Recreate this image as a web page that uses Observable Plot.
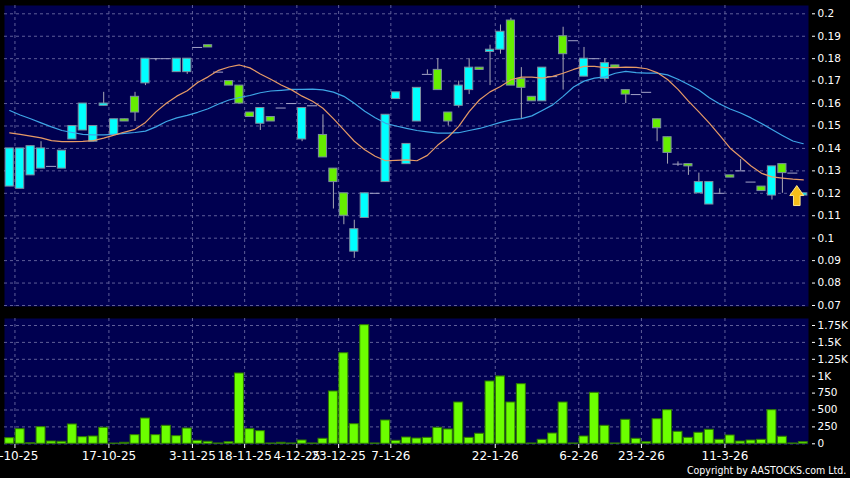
<!DOCTYPE html>
<html>
<head>
<meta charset="utf-8">
<script src="https://cdn.jsdelivr.net/npm/d3@7"></script>
<script src="https://cdn.jsdelivr.net/npm/@observablehq/plot@0.6"></script>
<style>
html, body { margin: 0; padding: 0; background: #000; }
#chart { position: relative; width: 850px; height: 478px; background: #000; overflow: hidden; font-family: "DejaVu Sans", sans-serif; }
#chart svg { position: absolute; left: 0; }
#copy { position: absolute; right: 4px; top: 465px; color: #fff; font-size: 11px; line-height: 12px; white-space: nowrap; transform: scaleX(0.86); transform-origin: right center; font-family: "DejaVu Sans", sans-serif; }
</style>
</head>
<body>
<div id="chart"><div id="copy">Copyright by AASTOCKS.com Ltd.</div></div>
<script>
// ---- data ----
const opens  = [0.140,0.140,0.141,0.140,0.132,0.139,0.150,0.160,0.150,0.160,0.153,0.152,0.156,0.180,0.180,0.180,0.180,0.180,0.185,0.185,0.174,0.168,0.160,0.154,0.158,0.152,0.158,0.160,0.158,0.159,0.136,0.125,0.110,0.104,0.120,0.120,0.155,0.165,0.142,0.167,0.173,0.166,0.152,0.168,0.176,0.175,0.184,0.192,0.168,0.167,0.161,0.176,0.172,0.182,0.188,0.180,0.180,0.178,0.176,0.164,0.164,0.165,0.149,0.138,0.133,0.132,0.125,0.125,0.120,0.127,0.130,0.125,0.121,0.132,0.129,0.129,0.120];
const closes = [0.123,0.122,0.128,0.131,0.132,0.131,0.144,0.148,0.143,0.159,0.146,0.153,0.163,0.169,0.180,0.180,0.174,0.174,0.185,0.186,0.174,0.170,0.168,0.156,0.151,0.154,0.158,0.160,0.144,0.159,0.146,0.131,0.120,0.094,0.109,0.120,0.125,0.162,0.133,0.152,0.173,0.175,0.156,0.159,0.166,0.176,0.183,0.184,0.197,0.171,0.163,0.161,0.172,0.190,0.188,0.172,0.180,0.171,0.177,0.166,0.164,0.165,0.153,0.145,0.133,0.133,0.120,0.115,0.120,0.128,0.130,0.125,0.123,0.119,0.133,0.129,0.119];
const highs  = [0.140,0.140,0.141,0.143,0.132,0.139,0.150,0.160,0.150,0.165,0.153,0.153,0.165,0.180,0.180,0.180,0.180,0.180,0.185,0.186,0.174,0.170,0.168,0.156,0.158,0.154,0.158,0.160,0.158,0.159,0.155,0.131,0.120,0.108,0.120,0.120,0.155,0.165,0.142,0.167,0.175,0.180,0.156,0.170,0.180,0.176,0.186,0.195,0.198,0.176,0.163,0.176,0.172,0.194,0.188,0.185,0.180,0.180,0.177,0.166,0.164,0.165,0.153,0.145,0.134,0.133,0.129,0.125,0.122,0.128,0.135,0.125,0.123,0.132,0.133,0.129,0.120];
const lows   = [0.123,0.122,0.128,0.131,0.132,0.131,0.144,0.148,0.143,0.159,0.146,0.152,0.152,0.168,0.179,0.180,0.174,0.173,0.185,0.185,0.174,0.168,0.160,0.154,0.148,0.152,0.158,0.160,0.143,0.159,0.136,0.113,0.106,0.091,0.109,0.120,0.125,0.162,0.133,0.152,0.173,0.166,0.150,0.158,0.164,0.175,0.168,0.182,0.168,0.153,0.161,0.161,0.172,0.166,0.188,0.172,0.180,0.170,0.176,0.160,0.164,0.165,0.143,0.133,0.132,0.128,0.120,0.115,0.120,0.127,0.130,0.125,0.121,0.117,0.120,0.129,0.119];
const volumes = [83,216,8,246,34,30,286,98,108,237,4,15,128,374,128,266,113,226,44,30,5,24,1040,216,187,5,15,5,49,5,74,774,1340,290,1755,5,345,44,93,78,88,237,212,611,88,148,922,996,611,882,5,59,152,611,5,108,754,266,5,355,74,24,364,497,177,88,163,207,59,123,34,49,59,497,104,5,24];
const maShort = [0.1469,0.1463,0.1455,0.1447,0.1435,0.1430,0.1430,0.1431,0.1435,0.1446,0.1459,0.1473,0.1485,0.1516,0.1563,0.1601,0.1633,0.1657,0.1694,0.1719,0.1748,0.1763,0.1772,0.1759,0.1732,0.1708,0.1683,0.1661,0.1633,0.1610,0.1579,0.1533,0.1483,0.1432,0.1394,0.1365,0.1345,0.1347,0.1349,0.1345,0.1369,0.1415,0.1451,0.1498,0.1564,0.1617,0.1652,0.1676,0.1706,0.1718,0.1718,0.1713,0.1721,0.1735,0.1752,0.1766,0.1766,0.1760,0.1760,0.1762,0.1761,0.1755,0.1738,0.1707,0.1663,0.1611,0.1563,0.1513,0.1458,0.1401,0.1362,0.1322,0.1289,0.1273,0.1268,0.1263,0.1260];
const maLong = [0.1569,0.1549,0.1532,0.1514,0.1496,0.1480,0.1471,0.1463,0.1460,0.1460,0.1463,0.1467,0.1471,0.1477,0.1496,0.1520,0.1536,0.1547,0.1561,0.1577,0.1598,0.1616,0.1627,0.1636,0.1648,0.1656,0.1659,0.1663,0.1663,0.1664,0.1661,0.1651,0.1632,0.1601,0.1566,0.1537,0.1512,0.1500,0.1489,0.1480,0.1474,0.1468,0.1468,0.1470,0.1480,0.1489,0.1502,0.1516,0.1527,0.1533,0.1545,0.1569,0.1594,0.1632,0.1674,0.1700,0.1713,0.1719,0.1735,0.1743,0.1738,0.1736,0.1736,0.1728,0.1708,0.1685,0.1660,0.1626,0.1598,0.1576,0.1558,0.1536,0.1511,0.1484,0.1458,0.1433,0.1421];
const dateTickIndex = [0, 9, 17, 22, 27, 31, 36, 46, 54, 60, 68];
const dateTickLabels = ["3-10-25","17-10-25","3-11-25","18-11-25","4-12-25","23-12-25","7-1-26","22-1-26","6-2-26","23-2-26","11-3-26"];
const priceTicks = [0.2,0.19,0.18,0.17,0.16,0.15,0.14,0.13,0.12,0.11,0.1,0.09,0.08,0.07];
const volumeTicks = [0,250,500,750,1000,1250,1500,1750];
const volumeTickLabels = ["0","250","500","750","1K","1.25K","1.5K","1.75K"];

// ---- styling ----
const BG = "#000050", GRID = "#5e5e98", UP = "#66ee00", DOWN = "#00ffff", BORDER = "#7d8ea0",
      WICK = "#a8a8b4", FLAT = "#a4a4c8", ORANGE = "#e69a66", BLUE = "#3ea6e6",
      VOLFILL = "#6cff00", VOLSTROKE = "#2f7a00";

const candles = opens.map((o, i) => ({
  i, o, c: closes[i], h: highs[i], l: lows[i], v: volumes[i], maS: maShort[i], maL: maLong[i]
}));
const last = candles[candles.length - 1];

const arrowSymbol = {
  draw(ctx) {
    ctx.moveTo(0, -10); ctx.lineTo(7, 0); ctx.lineTo(3.3, 0); ctx.lineTo(3.3, 10);
    ctx.lineTo(-3.3, 10); ctx.lineTo(-3.3, 0); ctx.lineTo(-7, 0); ctx.closePath();
  }
};

const common = {
  width: 850, marginLeft: 4, marginRight: 42,
  style: { fontFamily: '"DejaVu Sans", sans-serif', color: "#fff", background: "transparent", overflow: "visible" },
  color: { type: "identity" }
};
const xDomain = [-0.5, candles.length - 0.5];
const dash = "3,3";

const main = Plot.plot({
  ...common,
  height: 312, marginTop: 5, marginBottom: 6,
  x: { domain: xDomain, axis: null },
  y: { domain: [0.06955, 0.2037], axis: null },
  marks: [
    Plot.frame({ fill: BG, stroke: null }),
    Plot.ruleY(priceTicks, { stroke: GRID, strokeDasharray: dash }),
    Plot.ruleX(dateTickIndex, { x: d => d + 0.5, stroke: GRID, strokeDasharray: dash }),
    Plot.ruleX(candles.filter(d => d.h > d.l), { x: "i", y1: "l", y2: "h", stroke: WICK }),
    Plot.rect(candles.filter(d => d.o !== d.c), {
      x1: d => d.i - 0.39, x2: d => d.i + 0.39, y1: "o", y2: "c",
      fill: d => d.c > d.o ? UP : DOWN, stroke: BORDER, strokeWidth: 1
    }),
    Plot.ruleY(candles.filter(d => d.o === d.c), { x1: d => d.i - 0.48, x2: d => d.i + 0.48, y: "c", stroke: FLAT }),
    Plot.line(candles, { x: "i", y: "maL", stroke: BLUE, strokeWidth: 1.2 }),
    Plot.line(candles, { x: "i", y: "maS", stroke: ORANGE, strokeWidth: 1.2 }),
    Plot.dot([last], { x: "i", y: "c", dx: -6.5, symbol: arrowSymbol, r: 10, fill: "#f5be1a", stroke: "#fde68a", strokeWidth: 1 }),
    Plot.axisY({ ticks: priceTicks, anchor: "right", tickSize: 3, dx: 3, tickPadding: 3, fontSize: 10.5,
                 tickFormat: d => String(d), label: null, color: "white" })
  ]
});
main.style.top = "0px";

const vol = Plot.plot({
  ...common,
  height: 166, marginTop: 6, marginBottom: 34,
  x: { domain: xDomain, axis: null },
  y: { domain: [-10.4, 1853.6], axis: null },
  marks: [
    Plot.frame({ fill: BG, stroke: null }),
    Plot.ruleY(volumeTicks, { stroke: GRID, strokeDasharray: dash }),
    Plot.ruleX(dateTickIndex, { x: d => d + 0.5, stroke: GRID, strokeDasharray: dash }),
    Plot.rect(candles, { x1: d => d.i - 0.43, x2: d => d.i + 0.43, y1: d => 0, y2: "v", fill: VOLFILL, stroke: VOLSTROKE, strokeWidth: 1 }),
    Plot.axisY({ ticks: volumeTicks, anchor: "right", tickSize: 3, dx: 3, tickPadding: 3, fontSize: 10.5,
                 tickFormat: d => volumeTickLabels[volumeTicks.indexOf(d)], label: null, color: "white" }),
    Plot.axisX({ ticks: dateTickIndex.map(d => d + 0.5), anchor: "bottom", tickSize: 4, tickPadding: 3, fontSize: 12,
                 tickFormat: d => dateTickLabels[dateTickIndex.indexOf(Math.round(d - 0.5))], label: null, color: "white" })
  ]
});
vol.style.top = "312px";

const chart = document.getElementById("chart");
chart.insertBefore(vol, chart.firstChild);
chart.insertBefore(main, chart.firstChild);
</script>
</body>
</html>
